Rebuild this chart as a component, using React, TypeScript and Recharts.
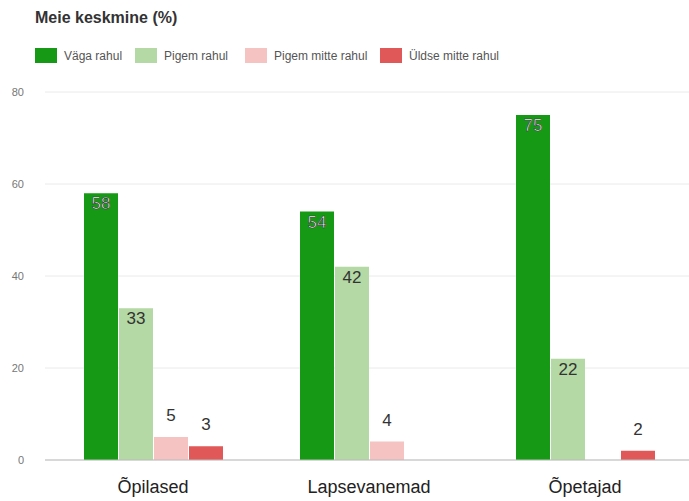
import { BarChart, Bar, XAxis, YAxis, CartesianGrid, Legend, LabelList } from "recharts";

const categories = ["Õpilased", "Lapsevanemad", "Õpetajad"];
const vagaRahul = [58, 54, 75];
const pigemRahul = [33, 42, 22];
const pigemMitteRahul = [5, 4, null];
const uldseMitteRahul = [3, null, 2];
const yTicks = [0, 20, 40, 60, 80];

const SERIES = [
  { key: "vaga", name: "Väga rahul", color: "#169a16", values: vagaRahul },
  { key: "pigem", name: "Pigem rahul", color: "#b4d9a5", values: pigemRahul },
  { key: "pigemMitte", name: "Pigem mitte rahul", color: "#f6c3c3", values: pigemMitteRahul },
  { key: "uldse", name: "Üldse mitte rahul", color: "#e15858", values: uldseMitteRahul },
];

const data = categories.map((name, i) => {
  const row: Record<string, any> = { name };
  SERIES.forEach((s) => (row[s.key] = s.values[i]));
  return row;
});

const legendX = [35, 135, 245, 380];

function renderLegend() {
  return (
    <div style={{ position: "relative", height: 20, width: 689 }}>
      {SERIES.map((s, i) => (
        <div
          key={s.key}
          style={{
            position: "absolute",
            left: legendX[i],
            top: 0,
            display: "flex",
            alignItems: "center",
            fontSize: 12,
            color: "#555",
            fontFamily: "'Liberation Sans Narrow', Arial, sans-serif",
          }}
        >
          <span style={{ width: 22, height: 15, background: s.color, marginRight: 7, display: "inline-block" }} />
          {s.name}
        </div>
      ))}
    </div>
  );
}

const labelFont = "'Liberation Sans Narrow', 'Liberation Sans', Arial, sans-serif";

export default function App() {
  return (
    <div style={{ position: "absolute", left: 0, top: 0, width: 689, height: 501, background: "#fff" }}>
      <div
        style={{
          position: "absolute",
          left: 35,
          top: 9,
          fontSize: 16,
          fontWeight: "bold",
          color: "#333",
          fontFamily: "Arial, 'Liberation Sans', sans-serif",
        }}
      >
        Meie keskmine (%)
      </div>
      <BarChart
        width={689}
        height={501}
        data={data}
        margin={{ top: 72, right: -4, bottom: 11, left: 0 }}
        barGap={1}
        barSize={34}
      >
        <CartesianGrid vertical={false} stroke="#eaeaea" />
        <XAxis
          dataKey="name"
          tickLine={false}
          axisLine={{ stroke: "#bbb" }}
          tickSize={0}
          tickMargin={20}
          tick={{ fontSize: 18, fill: "#222", fontFamily: "Arial, 'Liberation Sans', sans-serif" }}
        />
        <YAxis
          width={45}
          domain={[0, 80]}
          ticks={yTicks}
          axisLine={false}
          tickLine={false}
          tickSize={0}
          tickMargin={21}
          tick={{ fontSize: 11, fill: "#777", fontFamily: "Arial, sans-serif" }}
        />
        <Legend verticalAlign="top" wrapperStyle={{ top: 48, left: 0 }} content={renderLegend} />
        <Bar dataKey="vaga" name="Väga rahul" fill={SERIES[0].color} isAnimationActive={false}>
          <LabelList
            dataKey="vaga"
            position="insideTop"
            offset={4}
            fill="#fff"
            stroke="#333"
            strokeWidth={0.6}
            fontSize={17}
            fontFamily={labelFont}
          />
        </Bar>
        <Bar dataKey="pigem" name="Pigem rahul" fill={SERIES[1].color} isAnimationActive={false}>
          <LabelList dataKey="pigem" position="insideTop" offset={4} fill="#333" fontSize={17} fontFamily={labelFont} />
        </Bar>
        <Bar dataKey="pigemMitte" name="Pigem mitte rahul" fill={SERIES[2].color} isAnimationActive={false}>
          <LabelList dataKey="pigemMitte" position="top" offset={16} fill="#333" fontSize={17} fontFamily={labelFont} />
        </Bar>
        <Bar dataKey="uldse" name="Üldse mitte rahul" fill={SERIES[3].color} isAnimationActive={false}>
          <LabelList dataKey="uldse" position="top" offset={16} fill="#333" fontSize={17} fontFamily={labelFont} />
        </Bar>
      </BarChart>
    </div>
  );
}
